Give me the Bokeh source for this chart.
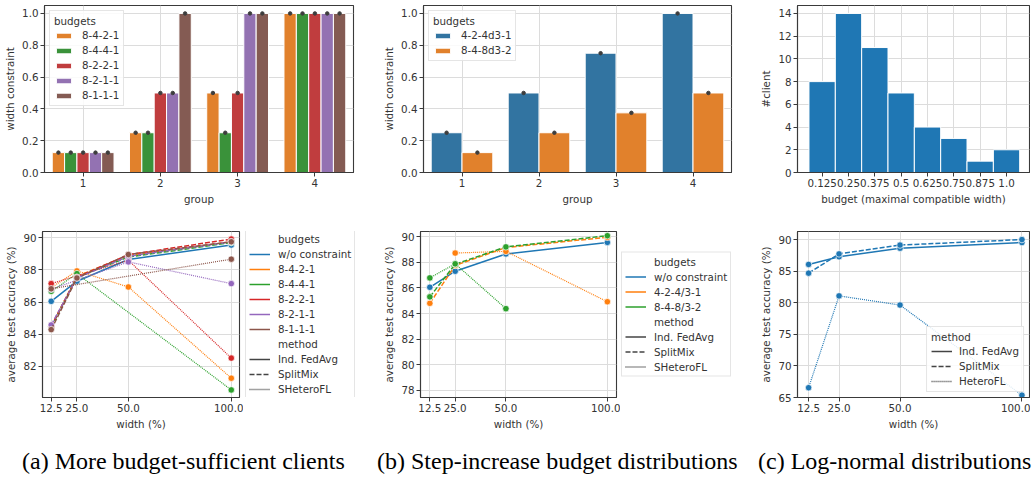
from bokeh.plotting import figure
from bokeh.models import (ColumnDataSource, Legend, LegendItem, FixedTicker,
                          Range1d, Div)
from bokeh.layouts import column, row
from bokeh.transform import dodge
from bokeh.embed import file_html
from bokeh.resources import INLINE

NAN = float("nan")

# ---------------- data ----------------
# (a) top: width constraint per group
groups = ["1", "2", "3", "4"]
budget_names_a = ["8-4-2-1", "8-4-4-1", "8-2-2-1", "8-2-1-1", "8-1-1-1"]
width_8421 = [0.125, 0.25, 0.5, 1.0]
width_8441 = [0.125, 0.25, 0.25, 1.0]
width_8221 = [0.125, 0.5, 0.5, 1.0]
width_8211 = [0.125, 0.5, 1.0, 1.0]
width_8111 = [0.125, 1.0, 1.0, 1.0]

# (b) top
budget_names_b = ["4-2-4d3-1", "8-4-8d3-2"]
width_424d31 = [0.25, 0.5, 0.75, 1.0]
width_848d32 = [0.125, 0.25, 0.375, 0.5]

# (c) top: histogram of budgets
budget_bins = [0.125, 0.25, 0.375, 0.5, 0.625, 0.75, 0.875, 1.0]
budget_labels = ["0.125", "0.25", "0.375", "0.5", "0.625", "0.75", "0.875", "1.0"]
client_counts = [8, 14, 11, 7, 4, 3, 1, 2]

# bottom row: accuracy vs width
widths = [12.5, 25.0, 50.0, 100.0]
width_labels = ["12.5", "25.0", "50.0", "100.0"]
acc_no_constraint = [86.05, 87.3, 88.65, 89.55]

# (a) bottom
acc_a_splitmix_8421 = [84.5, 87.6, 88.9, 89.75]
acc_a_splitmix_8441 = [84.45, 87.55, 88.8, 89.7]
acc_a_splitmix_8221 = [84.5, 87.55, 88.95, 89.92]
acc_a_splitmix_8211 = [84.58, 87.5, 88.85, 89.75]
acc_a_splitmix_8111 = [84.29, 87.5, 88.96, 89.75]
hetero_w_8421 = [12.5, 25.0, 50.0, 100.0]
acc_a_hetero_8421 = [86.9, 87.94, 86.94, 81.27]
hetero_w_8441 = [12.5, 25.0, 100.0]
acc_a_hetero_8441 = [86.67, 87.77, 80.54]
hetero_w_8221 = [12.5, 50.0, 100.0]
acc_a_hetero_8221 = [87.15, 88.6, 82.52]
hetero_w_8211 = [12.5, 50.0, 100.0]
acc_a_hetero_8211 = [86.8, 88.5, 87.15]
hetero_w_8111 = [12.5, 100.0]
acc_a_hetero_8111 = [86.83, 88.67]

# (b) bottom
budget_names_b2 = ["4-2-4/3-1", "8-4-8/3-2"]
acc_b_splitmix_4243 = [84.8, 87.75, 89.15, 89.95]
acc_b_splitmix_8483 = [85.3, 87.85, 89.2, 90.07]
hetero_w_4243 = [25.0, 50.0, 100.0]
acc_b_hetero_4243 = [88.72, 88.85, 84.92]
hetero_w_8483 = [12.5, 25.0, 50.0]
acc_b_hetero_8483 = [86.78, 87.88, 84.38]

# (c) bottom
acc_c_fedavg = [86.08, 87.3, 88.65, 89.55]
acc_c_splitmix = [84.7, 87.75, 89.15, 90.02]
acc_c_heterofl = [66.55, 81.1, 79.65, 65.37]

# ---------------- style ----------------
FONT = "DejaVu Sans"
FS = "10.3px"
TXT = "#333333"
EDGE = "#3a3a3a"
BLUE, ORANGE, GREEN, RED, PURPLE, BROWN = ("#1f77b4", "#ff7f0e", "#2ca02c",
                                           "#d62728", "#9467bd", "#8c564b")
BAR_COLORS_A = ["#e1812c", "#3a923a", "#c03d3e", "#9372b2", "#845b53"]
BAR_COLORS_B = ["#3274a1", "#e1812c"]
DASHED = "5 2"
DOTTED = "1 1"
H1, H2 = 207, 225


def style(p):
    p.background_fill_color = "white"
    p.border_fill_color = "white"
    p.outline_line_color = EDGE
    p.outline_line_width = 1.1
    for ax in p.axis:
        ax.axis_line_color = EDGE
        ax.axis_line_width = 1.1
        ax.major_tick_line_color = EDGE
        ax.major_tick_out = 4
        ax.major_tick_in = 0
        ax.minor_tick_line_color = None
        ax.major_label_text_font = FONT
        ax.major_label_text_font_size = FS
        ax.major_label_text_color = TXT
        ax.axis_label_text_font = FONT
        ax.axis_label_text_font_size = FS
        ax.axis_label_text_font_style = "normal"
        ax.axis_label_text_color = TXT
        ax.major_label_standoff = 2
        ax.axis_label_standoff = 3
    for g in p.grid:
        g.grid_line_color = "#dcdcdc"
        g.grid_line_width = 1


def style_legend(leg):
    leg.label_text_font = FONT
    leg.label_text_font_size = FS
    leg.label_text_color = TXT
    leg.title_text_font = FONT
    leg.title_text_font_size = FS
    leg.title_text_font_style = "normal"
    leg.title_text_color = TXT
    leg.title_standoff = 2
    leg.border_line_color = "#cccccc"
    leg.border_line_width = 1
    leg.background_fill_alpha = 0.85
    leg.glyph_width = 21
    leg.glyph_height = 8
    leg.label_height = 12
    leg.spacing = 3
    leg.padding = 4
    leg.label_standoff = 8


def bar_fig(names, series, colors, w, mbl, mbr):
    p = figure(width=w, height=H1, x_range=groups, y_range=Range1d(0, 1.05),
               output_backend="svg", toolbar_location=None,
               min_border_left=mbl, min_border_right=mbr,
               min_border_top=5, min_border_bottom=35)
    p.x_range.range_padding = 0
    n = len(names)
    bw = 0.8 / n
    items = []
    for i, (name, vals, c) in enumerate(zip(names, series, colors)):
        off = (i - (n - 1) / 2) * bw
        src = ColumnDataSource(dict(g=groups, v=vals))
        r = p.vbar(x=dodge("g", off, range=p.x_range), top="v", width=bw,
                   source=src, fill_color=c, line_color="white", line_width=1)
        p.scatter(x=dodge("g", off, range=p.x_range), y="v", source=src,
                  size=3.5, color="#3d3d3d")
        items.append(LegendItem(label=name, renderers=[r]))
    p.yaxis.ticker = FixedTicker(ticks=[0, 0.2, 0.4, 0.6, 0.8, 1.0])
    p.yaxis.major_label_overrides = {0: "0.0", 0.2: "0.2", 0.4: "0.4",
                                     0.6: "0.6", 0.8: "0.8", 1.0: "1.0"}
    p.xaxis.axis_label = "group"
    p.yaxis.axis_label = "width constraint"
    style(p)
    leg = Legend(items=items, title="budgets", location="top_left")
    style_legend(leg)
    leg.margin = 5
    leg.glyph_width = 19
    leg.glyph_height = 7
    leg.label_standoff = 9
    p.add_layout(leg)
    return p


# ---- top row ----
pa = bar_fig(budget_names_a, [width_8421, width_8441, width_8221, width_8211, width_8111],
             BAR_COLORS_A, 380, 44, 27)
pb = bar_fig(budget_names_b, [width_424d31, width_848d32], BAR_COLORS_B, 377, 40, 26)

pc = figure(width=273, height=H1, x_range=Range1d(0.008, 1.109), y_range=Range1d(0, 14.7),
            output_backend="svg", toolbar_location=None,
            min_border_left=37, min_border_right=1, min_border_top=5, min_border_bottom=35)
hsrc = ColumnDataSource(dict(b=budget_bins, c=client_counts))
pc.vbar(x="b", top="c", width=0.125, source=hsrc, fill_color=BLUE,
        line_color="white", line_width=1)
pc.xaxis.ticker = FixedTicker(ticks=budget_bins)
pc.xaxis.major_label_overrides = {b: l for b, l in zip(budget_bins, budget_labels)}
pc.yaxis.ticker = FixedTicker(ticks=[0, 2, 4, 6, 8, 10, 12, 14])
pc.xaxis.axis_label = "budget (maximal compatible width)"
pc.yaxis.axis_label = "#client"
style(pc)


# ---- bottom row ----
def line_fig(w, xr, yr, yticks, mbl, mbr):
    p = figure(width=w, height=H2, x_range=Range1d(*xr), y_range=Range1d(*yr),
               output_backend="svg", toolbar_location=None,
               min_border_left=mbl, min_border_right=mbr,
               min_border_top=24, min_border_bottom=35)
    p.xaxis.ticker = FixedTicker(ticks=widths)
    p.xaxis.major_label_overrides = {x: l for x, l in zip(widths, width_labels)}
    p.yaxis.ticker = FixedTicker(ticks=yticks)
    p.xaxis.axis_label = "width (%)"
    p.yaxis.axis_label = "average test accuracy (%)"
    style(p)
    return p


def draw(p, xs, ys, color, dash, lw=1.5):
    src = ColumnDataSource(dict(x=xs, y=ys))
    p.line("x", "y", source=src, line_color=color, line_width=lw, line_dash=dash)
    p.scatter("x", "y", source=src, size=6.5, fill_color=color,
              line_color="white", line_width=0.7)


def legend_fig(w, mg, budget_names, budget_colors, method_names):
    q = figure(width=w, height=H2, x_range=Range1d(0, 1), y_range=Range1d(0, 1),
               output_backend="svg", toolbar_location=None,
               x_axis_location=None, y_axis_location=None,
               min_border_left=0, min_border_right=0,
               min_border_top=24, min_border_bottom=35)
    q.outline_line_color = None
    q.grid.visible = False
    q.background_fill_color = "white"
    q.border_fill_color = "white"
    hdr1 = q.line(x=[NAN], y=[NAN], line_alpha=0)
    hdr2 = q.line(x=[NAN], y=[NAN], line_alpha=0)
    items = [LegendItem(label="budgets", renderers=[hdr1])]
    for n, c in zip(budget_names, budget_colors):
        r = q.line(x=[NAN], y=[NAN], line_color=c, line_width=1.5)
        items.append(LegendItem(label=n, renderers=[r]))
    items.append(LegendItem(label="method", renderers=[hdr2]))
    for n, d in zip(method_names, ["solid", DASHED, DOTTED]):
        r = q.line(x=[NAN], y=[NAN], line_color="#444444", line_width=1.5, line_dash=d)
        items.append(LegendItem(label=n, renderers=[r]))
    leg = Legend(items=items, location="center_left")
    style_legend(leg)
    leg.padding = 3
    leg.margin = mg
    leg.background_fill_alpha = 1.0
    q.add_layout(leg)
    return q


pd_ = line_fig(243, (8.27, 104.0), (80.07, 90.39), [82, 84, 86, 88, 90], 42, 4)
draw(pd_, widths, acc_no_constraint, BLUE, "solid")
for col, sm, hw, he in [
        (ORANGE, acc_a_splitmix_8421, hetero_w_8421, acc_a_hetero_8421),
        (GREEN, acc_a_splitmix_8441, hetero_w_8441, acc_a_hetero_8441),
        (RED, acc_a_splitmix_8221, hetero_w_8221, acc_a_hetero_8221),
        (PURPLE, acc_a_splitmix_8211, hetero_w_8211, acc_a_hetero_8211),
        (BROWN, acc_a_splitmix_8111, hetero_w_8111, acc_a_hetero_8111)]:
    draw(pd_, widths, sm, col, DASHED)
    draw(pd_, hw, he, col, DOTTED, 1.2)
pd_leg = legend_fig(137, 2, ["w/o constraint"] + budget_names_a,
                    [BLUE, ORANGE, GREEN, RED, PURPLE, BROWN],
                    ["Ind. FedAvg", "SplitMix", "SHeteroFL"])

pe = line_fig(240, (7.9, 104.5), (77.45, 90.4), [78, 80, 82, 84, 86, 88, 90], 37, 4)
draw(pe, widths, acc_no_constraint, BLUE, "solid")
for col, sm, hw, he in [
        (ORANGE, acc_b_splitmix_4243, hetero_w_4243, acc_b_hetero_4243),
        (GREEN, acc_b_splitmix_8483, hetero_w_8483, acc_b_hetero_8483)]:
    draw(pe, widths, sm, col, DASHED)
    draw(pe, hw, he, col, DOTTED, 1.2)
pe_leg = legend_fig(137, 1, ["w/o constraint"] + budget_names_b2, [BLUE, ORANGE, GREEN],
                    ["Ind. FedAvg", "SplitMix", "SHeteroFL"])

pf = line_fig(273, (7.95, 103.1), (65.0, 91.3), [65, 70, 75, 80, 85, 90], 36, 1)
draw(pf, widths, acc_c_fedavg, BLUE, "solid")
draw(pf, widths, acc_c_splitmix, BLUE, DASHED)
draw(pf, widths, acc_c_heterofl, BLUE, DOTTED, 1.2)
fitems = []
for n, d in zip(["Ind. FedAvg", "SplitMix", "HeteroFL"], ["solid", DASHED, DOTTED]):
    r = pf.line(x=[NAN], y=[NAN], line_color="#444444", line_width=1.5, line_dash=d)
    fitems.append(LegendItem(label=n, renderers=[r]))
fleg = Legend(items=fitems, title="method", location="bottom_right")
style_legend(fleg)
fleg.margin = 5
fleg.label_standoff = 7
pf.add_layout(fleg)

captions = ["(a) More budget-sufficient clients",
            "(b) Step-increase budget distributions",
            "(c) Log-normal distributions"]
cap_left = [22, 377, 758]
spans = "".join(
    '<span style="position:absolute;left:%dpx;top:16px;white-space:nowrap;">%s</span>' % (l, t)
    for l, t in zip(cap_left, captions))
cap = Div(text='<div style="position:relative;width:1030px;height:46px;'
               'font-family:\'Liberation Serif\',\'Times New Roman\',serif;'
               'font-size:24px;line-height:1.1;color:#000;">' + spans + '</div>',
          width=1030, height=46, margin=0)

layout = column(row(pa, pb, pc), row(pd_, pd_leg, pe, pe_leg, pf), cap)
open("out.html", "w").write(file_html(layout, INLINE))
